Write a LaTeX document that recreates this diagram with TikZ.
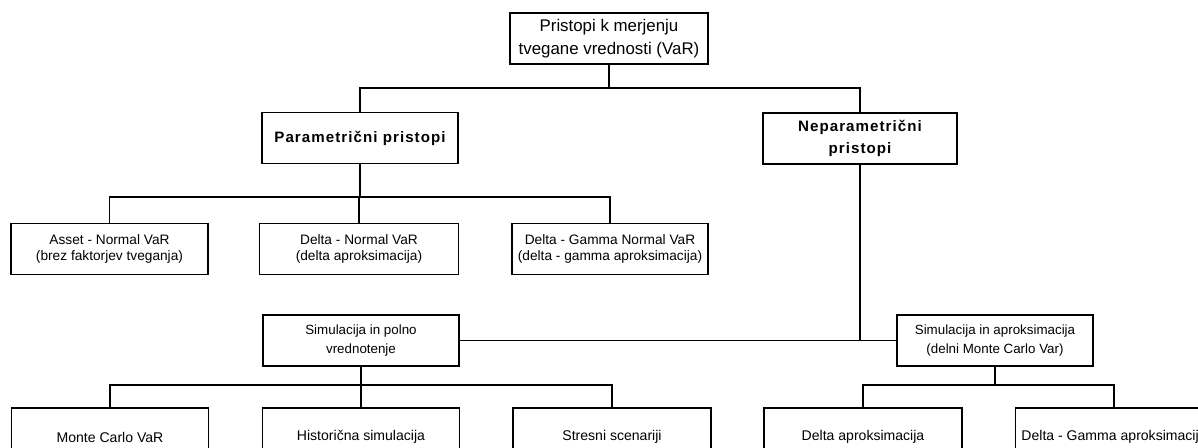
\documentclass[tikz,border=0pt]{standalone}
\usepackage{fontspec}
\setmainfont{Liberation Sans}
\newfontfamily\spacedbf[LetterSpace=7]{Liberation Sans}
\usetikzlibrary{positioning}

\tikzset{
	box/.style={draw, line width=0.8pt, minimum width=3.92cm, minimum height=1.02cm, align=center, inner sep=1pt},
	topbox/.style={box, font=\fontsize{9.6}{13}\selectfont},
	headbox/.style={box, font=\fontsize{8.6}{13}\spacedbf\bfseries},
	smallbox/.style={box, font=\fontsize{7.8}{8.8}\selectfont},
	simbox/.style={box, font=\fontsize{7.6}{10.8}\selectfont},
	leafbox/.style={box, minimum height=1.16cm, font=\fontsize{8}{9}\selectfont},
	link/.style={line width=0.8pt}
}

\begin{document}
\begin{tikzpicture}[x=0.02cm, y=-0.02cm]
	\useasboundingbox (0,0) rectangle (1198,448);
	\clip (0,0) rectangle (1198,448);
	\node[topbox, minimum width=3.96cm] (top) at (609,38.5) {Pristopi k merjenju\\tvegane vrednosti (VaR)};
	\node[headbox] (param) at (360,138) {Parametrični pristopi};
	\node[headbox, minimum width=3.88cm] (neparam) at (860,138.5) {Neparametrični\\pristopi};
	\node[smallbox, minimum width=3.94cm] (asset) at (109.5,249) {Asset - Normal VaR\\(brez faktorjev tveganja)};
	\node[smallbox, minimum width=3.98cm] (dnormal) at (359,249) {Delta - Normal VaR\\(delta aproksimacija)};
	\node[smallbox] (dgnormal) at (610,249) {Delta - Gamma Normal VaR\\(delta - gamma aproksimacija)};
	\node[simbox] (simpolno) at (361,340.5) {Simulacija in polno\\vrednotenje};
	\node[simbox] (simaprox) at (995,340.5) {Simulacija in aproksimacija\\(delni Monte Carlo Var)};
	\node[leafbox, minimum width=3.94cm] (mc) at (110,437) {Monte Carlo VaR};
	\node[leafbox, minimum width=3.94cm] (hist) at (361,437) {Historična simulacija};
	\node[leafbox, minimum width=3.96cm] (stres) at (612,437) {Stresni scenariji};
	\node[leafbox, minimum width=3.96cm] (daprox) at (863,437) {Delta aproksimacija};
	\node[leafbox, minimum width=3.94cm] (dgaprox) at (1114,437) {Delta - Gamma aproksimacija};
	\coordinate (j1) at (609,88);
	\coordinate (j2) at (360,197);
	\coordinate (j3) at (361,385);
	\coordinate (j4) at (995,385);
	\draw[link] (top.south) -- (j1);
	\draw[link] (param.north) |- (j1) -| (neparam.north);
	\draw[link] (param.south) -- (j2);
	\draw[link] (asset.north) |- (j2) -| (dgnormal.north);
	\draw[link] (dnormal.north) -- (dnormal.north |- j2);
	\draw[link] (neparam.south) -- (neparam.south |- simaprox.west);
	\draw[link] (simpolno.east) -- (simaprox.west);
	\draw[link] (simpolno.south) -- (j3);
	\draw[link] (mc.north) |- (j3) -| (stres.north);
	\draw[link] (hist.north) -- (j3);
	\draw[link] (simaprox.south) -- (j4);
	\draw[link] (daprox.north) |- (j4) -| (dgaprox.north);
\end{tikzpicture}
\end{document}
